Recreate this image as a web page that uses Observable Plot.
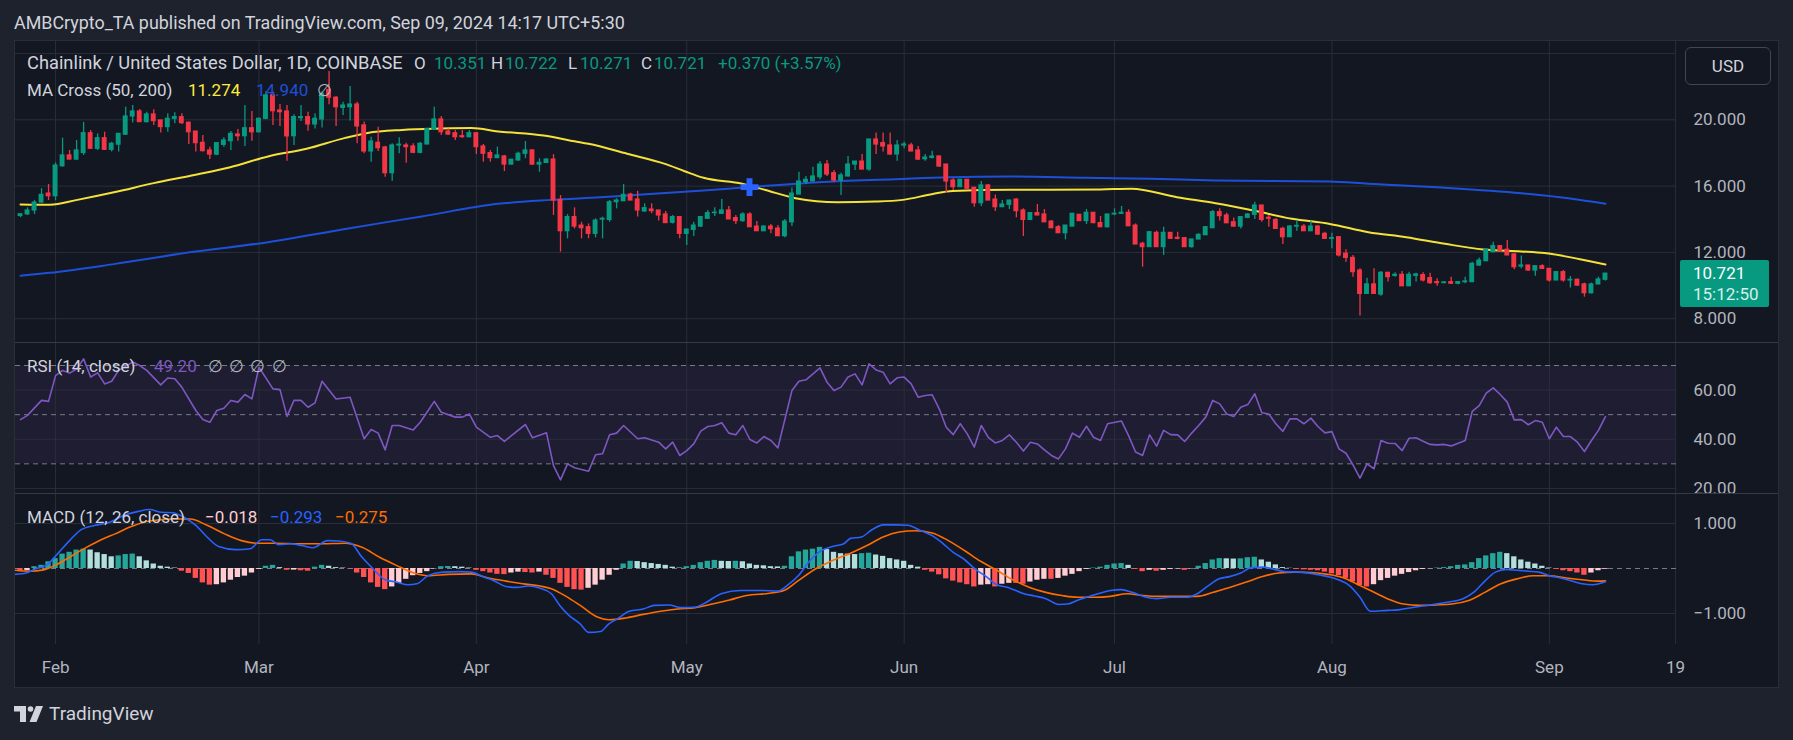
<!DOCTYPE html>
<html><head><meta charset="utf-8">
<script src="https://cdn.jsdelivr.net/npm/d3@7"></script>
<script src="https://cdn.jsdelivr.net/npm/@observablehq/plot@0.6"></script>
<style>
html,body{margin:0;padding:0;background:#1e222d;}
body{width:1793px;height:740px;position:relative;overflow:hidden;font-family:Roboto,"Noto Sans",sans-serif;color:#d1d4dc;}
.t{position:absolute;white-space:nowrap;line-height:20px;font-size:17px;}
.g{color:#089981}
#frame{position:absolute;left:14px;top:40px;width:1763px;height:646px;border:1px solid #2a2e39;background:#131722;}
.panel{position:absolute;left:0;}
.panel svg{max-width:none !important;}
.sep{position:absolute;left:0;width:1763px;height:1px;background:#363a45;}
</style></head><body>
<div class="t" style="left:14px;top:13px;font-size:17.9px;color:#d1d4dc">AMBCrypto_TA published on TradingView.com, Sep 09, 2024 14:17 UTC+5:30</div>
<div id="frame">
  <div class="panel" id="price" style="top:0"></div>
  <div class="panel" id="rsi" style="top:301px"></div>
  <div class="panel" id="macd" style="top:452px"></div>
  <div class="panel" id="xaxis" style="top:603px;width:1700px;height:43px;overflow:hidden"></div>
  <div class="sep" style="top:301px"></div>
  <div class="sep" style="top:452px"></div>
</div>
<!-- legends -->
<div class="t" style="left:27px;top:53px;font-size:18.3px">Chainlink / United States Dollar, 1D, COINBASE</div>
<div class="t" style="left:414px;top:53px">O</div><div class="t g" style="left:434px;top:53px">10.351</div>
<div class="t" style="left:491px;top:53px">H</div><div class="t g" style="left:505px;top:53px">10.722</div>
<div class="t" style="left:568px;top:53px">L</div><div class="t g" style="left:580px;top:53px">10.271</div>
<div class="t" style="left:641px;top:53px">C</div><div class="t g" style="left:654px;top:53px">10.721</div>
<div class="t g" style="left:718px;top:53px">+0.370 (+3.57%)</div>
<div class="t" style="left:27px;top:80px">MA Cross (50, 200)</div>
<div class="t" style="left:188px;top:80px;color:#ffeb3b">11.274</div>
<div class="t" style="left:256px;top:80px;color:#1e4fd8">14.940</div>
<div class="t" style="left:317px;top:80px;color:#b2b5be">∅</div>
<div class="t" style="left:27px;top:356px">RSI (14, close)</div>
<div class="t" style="left:154px;top:356px;color:#7e57c2">49.20</div>
<div class="t" style="left:208px;top:356px;color:#b2b5be;word-spacing:2px">∅ ∅ ∅ ∅</div>
<div class="t" style="left:27px;top:507px">MACD (12, 26, close)</div>
<div class="t" style="left:205px;top:507px;color:#ffcdd2">−0.018</div>
<div class="t" style="left:270px;top:507px;color:#2962ff">−0.293</div>
<div class="t" style="left:335px;top:507px;color:#ff6d00">−0.275</div>
<!-- USD button and price tag -->
<div style="position:absolute;left:1685px;top:47px;width:84px;height:36px;border:1px solid #434651;border-radius:6px;background:#131722;color:#d1d4dc;font-size:17px;line-height:36px;text-align:center">USD</div>
<div style="position:absolute;left:1680px;top:260px;width:89px;height:47px;background:#089981;border-radius:2px">
  <div class="t" style="left:13px;top:3px;color:#ffffff;font-size:17px">10.721</div>
  <div class="t" style="left:13px;top:24px;color:#d6efea;font-size:17px">15:12:50</div>
</div>
<!-- footer -->
<svg style="position:absolute;left:14px;top:706px" width="30" height="16" viewBox="0 0 30 16">
  <path d="M0 0H12V16H6V5.5H0Z" fill="#d1d4dc"/>
  <circle cx="16.5" cy="3" r="2.8" fill="#d1d4dc"/>
  <path d="M22 0H29L22.5 16H15.5Z" fill="#d1d4dc"/>
</svg>
<div class="t" style="left:49px;top:703px;font-size:19px;line-height:22px;color:#d1d4dc">TradingView</div>
<script>
// ---------- DATA ----------
// Daily candles, day 0 = 2024-01-27 ... day 226 = 2024-09-09
const startDate = "2024-01-27";
const open = [
 14.2,14.3,14.53,15.01,15.55,15.39,17.2,17.85,17.6,18.0,
 19.19,18.25,18.89,18.19,18.5,19.1,20.2,20.5,19.86,20.32,
 19.96,19.56,20.06,20.16,19.82,19.29,18.61,18.15,17.9,18.49,
 18.71,19.11,19.01,19.49,19.25,20.06,21.47,20.56,20.5,19.01,
 20.1,20.16,19.72,20.02,21.8,21.33,20.72,20.76,20.92,19.66,
 18.09,18.61,18.33,16.78,18.45,18.45,18.39,18.01,18.51,19.39,
 20.02,19.29,19.19,19.01,18.95,19.19,18.39,17.99,17.69,17.79,
 17.3,17.55,17.95,18.15,17.3,17.4,17.6,15.17,13.28,14.13,
 13.62,13.52,13.12,13.98,13.96,15.03,15.09,15.49,15.19,14.47,
 14.59,14.53,14.29,13.79,14.13,13.12,13.36,13.56,14.03,14.37,
 14.33,14.53,14.07,13.89,14.29,13.56,13.28,13.56,13.44,12.98,
 13.82,15.49,16.24,16.28,16.54,17.3,16.78,16.34,16.58,17.3,
 17.48,17.0,18.81,18.59,18.45,17.91,18.45,18.45,18.15,17.62,
 17.7,17.79,17.3,16.34,15.94,16.38,15.9,14.97,16.04,15.19,
 14.73,14.87,15.19,14.53,13.96,14.37,14.29,13.86,13.52,13.16,
 13.56,14.27,13.89,14.39,13.77,13.52,14.29,14.33,14.39,13.62,
 12.52,12.32,13.18,12.32,13.18,12.88,12.86,12.32,12.78,13.04,
 13.46,14.43,14.23,13.82,13.56,14.09,14.27,14.83,14.09,13.96,
 13.42,12.92,13.56,13.56,13.28,13.56,13.12,12.82,12.92,11.92,
 11.67,10.91,9.5,10.07,9.46,10.77,10.59,10.65,9.96,10.59,
 10.63,10.45,10.21,10.15,10.21,10.11,10.21,10.21,11.21,11.47,
 12.02,12.38,12.16,11.88,11.15,11.21,10.91,11.17,11.01,10.31,
 10.81,10.31,10.35,10.07,9.54,10.07,10.351];
const high = [
 14.35,14.69,15.13,15.84,16.1,17.4,18.89,18.15,18.75,19.84,
 19.35,19.15,19.25,18.65,19.15,20.76,20.86,20.62,20.46,20.6,
 19.96,20.36,20.42,20.36,19.86,19.29,19.05,18.35,18.59,18.91,
 19.29,19.41,20.86,20.5,20.1,21.67,21.67,20.92,20.86,20.3,
 20.86,20.46,20.36,21.67,22.91,21.4,21.06,22.01,21.06,19.86,
 18.95,19.55,18.4,18.55,18.91,18.59,18.55,18.63,19.45,20.76,
 20.2,19.45,19.35,19.35,19.35,19.19,18.51,18.15,18.35,17.85,
 17.6,18.05,18.69,18.2,17.65,17.65,17.9,15.43,14.29,14.69,
 13.82,13.72,14.03,14.13,15.13,15.23,16.1,15.57,15.69,14.93,
 14.93,14.53,14.47,14.23,14.13,13.4,13.82,14.13,14.53,14.69,
 15.19,14.77,14.23,14.39,14.39,13.86,13.6,13.68,13.62,13.99,
 15.89,16.84,16.58,17.14,17.48,17.54,16.94,16.78,17.79,17.48,
 17.91,18.81,19.21,19.21,19.21,18.75,18.65,18.59,18.39,17.91,
 18.11,17.79,17.3,16.44,16.38,16.38,15.9,16.28,16.1,15.47,
 15.13,15.13,15.23,14.63,14.37,14.89,14.59,13.92,13.62,13.62,
 14.33,14.27,14.59,14.39,14.17,14.29,14.63,14.77,14.57,13.72,
 12.62,13.22,13.28,13.52,13.18,13.22,12.9,12.78,13.12,13.56,
 14.53,14.63,14.37,14.07,14.13,14.33,15.03,14.83,14.23,14.03,
 13.52,13.62,13.92,13.68,13.88,13.62,13.22,13.16,12.96,12.16,
 11.82,11.01,10.45,11.01,10.85,10.81,10.77,10.85,10.81,10.75,
 10.77,10.75,10.41,10.25,10.51,10.25,10.51,11.41,11.66,12.18,
 12.62,12.42,12.72,11.92,11.78,11.21,11.17,11.25,11.01,10.81,
 10.91,10.55,10.39,10.15,10.15,10.51,10.722];
const low = [
 14.1,14.23,14.29,14.97,15.13,15.13,17.14,17.6,17.55,17.85,
 18.25,18.15,18.15,18.05,18.05,19.05,19.8,19.86,19.8,19.66,
 19.2,19.25,19.76,19.72,18.51,18.05,18.05,17.6,17.85,18.35,
 18.15,18.71,18.39,18.71,19.2,20.0,19.66,19.6,17.5,18.45,
 19.9,19.31,19.45,19.5,20.9,19.6,20.26,19.92,18.55,17.95,
 17.44,18.09,16.54,16.3,17.95,17.38,17.95,17.95,18.51,19.39,
 19.05,19.05,18.75,18.89,18.91,17.91,17.44,17.44,17.65,16.88,
 17.28,17.5,17.65,17.24,16.84,17.38,14.23,12.02,12.82,13.42,
 12.82,12.82,12.88,12.82,13.82,14.63,15.09,15.13,14.13,14.43,
 14.33,13.89,13.77,13.72,12.82,12.42,12.96,13.5,14.0,14.17,
 14.29,13.99,13.68,13.82,13.52,13.28,13.28,13.12,12.98,12.88,
 13.56,15.49,16.1,16.28,16.38,16.58,16.24,15.43,16.58,16.94,
 17.0,16.9,17.91,18.05,17.85,17.5,18.25,18.09,17.54,17.5,
 17.64,17.14,15.57,15.74,15.94,15.84,14.73,14.77,15.13,14.47,
 14.73,14.59,14.09,12.96,13.92,14.23,13.82,13.46,13.16,12.76,
 13.56,13.89,13.68,13.73,13.52,13.48,14.22,14.29,13.58,12.48,
 11.11,12.32,12.32,11.82,12.82,12.76,12.32,12.26,12.78,13.04,
 13.46,13.89,13.76,13.52,13.42,14.03,13.99,13.82,13.52,13.42,
 12.48,12.92,13.28,13.28,13.28,13.02,12.82,12.22,11.72,11.41,
 10.51,8.16,9.46,9.46,9.36,10.21,10.51,9.96,9.96,10.21,
 10.21,10.07,9.96,10.11,10.07,10.05,10.11,10.21,11.17,11.47,
 11.97,12.02,11.82,10.95,11.01,10.87,10.57,10.97,10.21,10.31,
 10.21,9.85,9.96,9.3,9.5,10.07,10.271];
const close = [
 14.3,14.53,15.01,15.47,15.39,17.24,17.85,17.6,18.15,19.19,
 18.25,18.89,18.19,18.55,19.15,20.2,20.5,19.86,20.32,19.92,
 19.56,20.06,20.16,19.8,19.25,18.59,18.11,17.9,18.59,18.75,
 19.15,19.01,19.49,19.25,20.06,21.47,20.52,20.46,19.0,20.16,
 20.16,19.72,20.06,21.57,21.33,20.76,20.86,20.92,19.6,18.09,
 18.69,18.29,16.78,18.45,18.5,18.35,18.01,18.55,19.45,20.02,
 19.25,19.11,18.95,18.95,19.19,18.35,17.95,17.69,17.85,17.3,
 17.59,17.95,18.15,17.3,17.4,17.6,15.13,13.28,14.13,13.56,
 13.46,13.12,13.92,14.03,15.03,15.13,15.47,15.13,14.53,14.67,
 14.49,14.23,13.77,14.13,13.12,13.38,13.62,14.13,14.37,14.4,
 14.53,13.99,13.89,14.29,13.52,13.28,13.56,13.4,12.98,13.86,
 15.55,16.28,16.38,16.58,17.3,16.7,16.34,16.64,17.3,17.48,
 17.0,18.81,18.51,18.39,17.91,18.45,18.51,18.09,17.6,17.72,
 17.78,17.18,16.28,15.94,16.38,15.84,14.97,16.04,15.13,14.73,
 14.89,15.13,14.49,13.96,14.37,14.23,13.82,13.46,13.16,13.62,
 14.33,13.89,14.39,13.77,13.52,14.29,14.33,14.39,13.58,12.48,
 12.32,13.22,12.32,13.18,12.82,12.82,12.32,12.78,13.06,13.52,
 14.43,14.19,13.76,13.56,14.13,14.29,14.83,13.96,14.03,13.42,
 12.92,13.56,13.6,13.28,13.56,13.08,12.82,12.86,11.82,11.67,
 10.81,9.5,10.07,9.5,10.77,10.51,10.65,9.96,10.65,10.67,
 10.31,10.15,10.15,10.19,10.11,10.21,10.25,11.31,11.51,12.18,
 12.38,12.08,11.82,11.11,11.21,10.91,11.17,11.01,10.31,10.81,
 10.31,10.35,10.0,9.54,10.07,10.37,10.721];

// Moving averages [day, value]
const ma50 = [[0,14.89],[4.2,14.87],[8.1,15.17],[13.5,15.64],[19,16.18],[24.4,16.64],[29.9,17.14],[35.3,17.79],[40.8,18.25],[46.3,18.91],[49.5,19.21],[54.4,19.39],[59.9,19.47],[64.3,19.5],[68.1,19.3],[74.6,19.05],[79,18.7],[81,18.55],[86.5,17.95],[91.9,17.34],[94.7,16.9],[97.4,16.5],[102.9,16.14],[106.1,15.78],[110.5,15.27],[116.5,15.03],[121.9,15.07],[125.8,15.17],[130.1,15.53],[132.9,15.7],[141,15.78],[146.5,15.78],[154,15.8],[158.4,15.84],[164.9,15.33],[170.4,14.97],[175.8,14.53],[181.3,14.03],[186.7,13.72],[192.2,13.22],[197.6,12.92],[203.1,12.52],[208.6,12.18],[214,12.06],[217.3,11.96],[222.2,11.61],[226,11.274]];
const ma200 = [[0,10.6],[4.2,10.77],[13.5,11.31],[24.4,12.02],[35.3,12.62],[46.3,13.42],[57.2,14.17],[68.1,14.93],[75.7,15.17],[82.7,15.33],[86.5,15.43],[97.4,15.74],[103.9,15.94],[113.8,16.24],[124.7,16.42],[132.3,16.54],[141,16.58],[151.9,16.5],[161.1,16.44],[170.4,16.34],[186.7,16.28],[192.2,16.14],[203.1,15.9],[214,15.57],[219.5,15.33],[226,14.94]];
const crossSignal = [[103.95, 15.94]];

// RSI (14) [day, value]
const rsi = [[0,48.0],[1,49.7],[3,55.8],[4,55.4],[5,65.9],[6,68.0],[7,66.9],[8,68.6],[9,72.7],[10,65.3],[11,67.0],[12,62.5],[13,63.6],[14,68.0],[16,71.4],[17,70.0],[18,68.0],[20,62.1],[21,64.9],[22,64.6],[23,61.2],[25,51.7],[26,48.0],[27,46.9],[28,51.7],[29,52.6],[30,55.8],[31,55.1],[32,58.2],[33,56.4],[34,69.3],[36,60.5],[37,60.2],[38,49.3],[39,55.8],[40,55.8],[41,53.0],[42,54.8],[43,63.6],[45,56.4],[47,57.1],[49,40.2],[50,44.0],[51,42.5],[52,35.7],[53,45.6],[54,45.6],[56,43.8],[57,46.9],[59,55.4],[60,51.0],[62,49.0],[63,49.0],[64,50.3],[65,44.9],[67,40.8],[68,41.5],[69,39.1],[70,41.5],[72,46.0],[73,40.6],[75,42.6],[76,29.3],[77,23.5],[78,30.0],[79,28.4],[81,27.0],[82,33.7],[83,34.1],[84,41.8],[85,42.5],[86,45.6],[88,40.2],[89,40.6],[91,38.8],[92,36.1],[93,38.8],[94,33.4],[95,35.4],[96,38.1],[97,43.3],[98,45.2],[99,45.6],[100,46.7],[101,42.5],[102,41.8],[103,45.6],[104,39.9],[105,38.5],[106,41.1],[107,39.5],[108,36.5],[110,59.8],[111,63.6],[112,64.2],[114,69.0],[115,63.2],[116,59.8],[117,61.2],[118,65.3],[119,66.6],[120,62.1],[121,70.7],[122,68.2],[123,67.3],[124,62.5],[125,65.0],[126,65.3],[127,62.5],[128,57.1],[129,57.8],[130,58.1],[131,52.4],[132,44.9],[133,41.9],[134,46.3],[135,42.2],[136,36.8],[137,45.6],[138,40.8],[139,38.5],[140,39.5],[141,41.8],[142,38.8],[143,35.2],[144,38.8],[145,38.1],[146,35.7],[147,33.4],[148,32.0],[149,36.1],[150,42.5],[151,40.8],[152,45.3],[153,40.8],[154,39.5],[155,46.3],[157,47.4],[158,41.5],[159,34.8],[160,33.4],[161,41.8],[162,37.2],[163,43.6],[164,41.9],[165,41.8],[166,39.1],[167,42.5],[168,45.6],[169,49.0],[170,55.8],[171,54.4],[172,50.3],[173,49.3],[174,53.0],[175,54.1],[176,58.5],[177,50.8],[178,50.3],[179,46.3],[180,43.2],[181,48.3],[182,48.3],[183,46.3],[184,48.6],[185,45.2],[186,42.6],[187,43.1],[188,36.1],[189,34.3],[190,29.6],[191,24.2],[192,30.0],[193,28.0],[194,39.5],[195,38.4],[196,38.3],[197,35.4],[198,40.4],[199,40.6],[200,39.2],[201,37.9],[202,37.7],[203,37.9],[204,37.3],[206,39.5],[207,51.3],[208,53.7],[209,58.75],[210,60.9],[211,58.2],[212,55.1],[213,47.9],[214,48.0],[215,45.9],[216,47.6],[217,46.9],[218,40.2],[219,44.9],[220,41.1],[221,41.1],[222,38.8],[223,35.0],[224,39.5],[225,43.6],[226,49.2]];

// MACD (12, 26) line and signal [day, value]
const macdLine = [[-0.8,-0.13],[0.8,-0.10],[2.1,-0.01],[3.7,0.07],[5.3,0.33],[7.0,0.62],[8.6,0.86],[10.65,0.96],[12.7,1.03],[14.7,1.18],[16.8,1.27],[18.4,1.31],[20.1,1.25],[21.7,1.24],[23.3,1.14],[25,0.96],[26.6,0.70],[28.25,0.49],[30.7,0.42],[32.75,0.44],[34.4,0.64],[35.6,0.64],[36.8,0.53],[38.5,0.55],[40.1,0.51],[41.7,0.46],[43.8,0.62],[45.4,0.61],[47.1,0.56],[48.7,0.25],[50.3,-0.01],[52,-0.25],[53.6,-0.30],[55.25,-0.36],[56.5,-0.34],[58.1,-0.16],[60.2,-0.08],[62.6,-0.07],[64.3,-0.08],[65.9,-0.18],[67.5,-0.27],[69.2,-0.40],[70.8,-0.42],[72.4,-0.39],[74.1,-0.44],[75.7,-0.56],[76.9,-0.82],[78.2,-1.04],[79.8,-1.23],[81,-1.42],[82.7,-1.40],[83.9,-1.23],[85.1,-1.12],[86.8,-0.95],[88.8,-0.90],[90.4,-0.82],[92.5,-0.81],[94.1,-0.87],[96.2,-0.86],[97.8,-0.75],[99.9,-0.56],[102.7,-0.49],[105.6,-0.49],[108,-0.50],[109.3,-0.38],[110.9,-0.16],[112.5,0.16],[114.2,0.40],[115.8,0.49],[117.4,0.55],[118.35,0.67],[119.9,0.70],[121.4,0.86],[123,0.97],[124.9,0.97],[126.5,0.96],[128.4,0.84],[130,0.73],[131.5,0.56],[133,0.36],[134.6,0.20],[136.1,-0.01],[137.7,-0.18],[139.2,-0.36],[140.8,-0.42],[143.1,-0.56],[144.6,-0.61],[146.2,-0.67],[148.1,-0.80],[149.3,-0.79],[150.8,-0.70],[152.4,-0.62],[153.9,-0.55],[155.4,-0.49],[157,-0.47],[158.5,-0.53],[160.5,-0.64],[162,-0.67],[164,-0.64],[166.3,-0.64],[167.8,-0.56],[169.4,-0.38],[170.9,-0.23],[172.4,-0.18],[174,-0.10],[175.5,0.02],[177.1,0.03],[178.6,-0.01],[180.2,-0.07],[182.5,-0.08],[184.8,-0.13],[186.4,-0.18],[187.9,-0.25],[189.5,-0.38],[191,-0.64],[192.5,-0.95],[194.9,-0.93],[196.4,-0.92],[198.7,-0.86],[201,-0.81],[203.4,-0.75],[205.7,-0.67],[207.2,-0.53],[208.8,-0.28],[210.3,-0.08],[211.9,-0.02],[213.4,-0.04],[215,-0.06],[216.5,-0.08],[218,-0.16],[219.6,-0.21],[221.1,-0.27],[222.7,-0.34],[224.2,-0.36],[226,-0.293]];
const signalLine = [[-0.8,-0.04],[1.24,-0.06],[3.3,-0.03],[5.3,0.10],[7.4,0.29],[9.4,0.47],[11.5,0.64],[13.5,0.77],[15.6,0.92],[17.6,1.03],[19.65,1.08],[21.7,1.10],[24.2,1.10],[26.6,0.96],[29.1,0.77],[31.5,0.62],[33.95,0.56],[36.4,0.56],[39.7,0.55],[43,0.55],[46.25,0.56],[48.7,0.47],[51.2,0.25],[53.6,0.07],[56.1,-0.10],[58.1,-0.16],[61,-0.13],[64.3,-0.12],[66.7,-0.21],[69.2,-0.28],[71.6,-0.34],[74.1,-0.39],[75.7,-0.45],[77.8,-0.62],[79.8,-0.82],[82.25,-1.08],[83.9,-1.14],[86.3,-1.10],[88.8,-1.02],[91.3,-0.95],[93.7,-0.90],[96.2,-0.87],[98.6,-0.79],[101.1,-0.70],[103.5,-0.60],[106.8,-0.55],[108.85,-0.49],[110.9,-0.27],[113.35,-0.01],[115.8,0.18],[118.35,0.34],[120.7,0.51],[123,0.70],[125.3,0.81],[127.6,0.84],[130,0.79],[132.3,0.62],[134.6,0.40],[136.9,0.16],[139.2,-0.04],[141.5,-0.25],[143.9,-0.42],[146.2,-0.53],[148.5,-0.60],[150.8,-0.64],[153.1,-0.64],[155.4,-0.62],[157.8,-0.56],[160.1,-0.60],[162.4,-0.62],[164.7,-0.62],[167.8,-0.62],[170.1,-0.53],[172.4,-0.42],[174.8,-0.30],[177.1,-0.18],[179.4,-0.10],[181.7,-0.08],[184,-0.09],[186.4,-0.13],[188.7,-0.21],[191,-0.38],[192.5,-0.49],[194.9,-0.67],[197.2,-0.79],[199.5,-0.82],[201.8,-0.81],[204.1,-0.79],[206.5,-0.71],[208.8,-0.53],[211.1,-0.34],[213.4,-0.23],[215.7,-0.16],[218,-0.16],[220.4,-0.21],[222.7,-0.25],[225,-0.28],[226,-0.275]];
// MACD histogram, one value per day (day 0..226)
const histogram = [
 -0.06,-0.05,0.04,0.07,0.15,0.22,0.32,0.36,0.41,0.43,
 0.41,0.35,0.31,0.26,0.28,0.31,0.32,0.26,0.17,0.10,
 0.05,0.03,0.01,-0.06,-0.11,-0.22,-0.32,-0.37,-0.36,-0.32,
 -0.26,-0.20,-0.17,-0.10,-0.02,0.05,0.07,0.02,-0.04,-0.035,
 -0.05,-0.06,0.03,0.07,0.05,0.02,0.01,-0.01,-0.10,-0.20,
 -0.32,-0.42,-0.47,-0.41,-0.33,-0.24,-0.16,-0.11,-0.07,-0.01,
 0.04,0.045,0.04,0.03,0.01,-0.04,-0.07,-0.10,-0.13,-0.135,
 -0.10,-0.08,-0.09,-0.10,-0.08,-0.15,-0.22,-0.33,-0.42,-0.47,
 -0.48,-0.44,-0.37,-0.26,-0.15,-0.04,0.10,0.16,0.155,0.13,
 0.11,0.09,0.07,0.03,0.01,0.04,0.07,0.13,0.16,0.18,
 0.16,0.155,0.16,0.15,0.10,0.07,0.06,0.04,0.035,0.05,
 0.26,0.37,0.41,0.43,0.47,0.42,0.36,0.33,0.32,0.31,
 0.33,0.34,0.30,0.27,0.22,0.19,0.16,0.07,0.03,-0.04,
 -0.08,-0.14,-0.23,-0.28,-0.32,-0.36,-0.41,-0.37,-0.36,-0.41,
 -0.35,-0.33,-0.33,-0.35,-0.30,-0.26,-0.24,-0.24,-0.22,-0.17,
 -0.13,-0.07,-0.02,0.01,0.03,0.07,0.10,0.11,0.07,-0.02,
 -0.07,-0.04,-0.06,-0.04,-0.02,-0.01,-0.04,-0.01,0.05,0.11,
 0.19,0.22,0.215,0.21,0.215,0.24,0.25,0.19,0.14,0.08,
 0.02,0.005,-0.02,-0.03,-0.04,-0.05,-0.08,-0.12,-0.16,-0.22,
 -0.30,-0.38,-0.41,-0.36,-0.27,-0.22,-0.17,-0.13,-0.09,-0.05,
 -0.02,-0.005,0.01,0.02,0.04,0.07,0.08,0.13,0.22,0.28,
 0.33,0.36,0.33,0.26,0.19,0.14,0.10,0.05,0.01,-0.02,
 -0.05,-0.07,-0.10,-0.15,-0.10,-0.05,-0.018];

// Axis ticks and labels
const priceTicks = [8, 12, 16, 20];
const priceGrid = [8, 12, 16, 20, 24];
const rsiTicks = [20, 40, 60];
const rsiLevels = [70, 50, 30];
const macdTicks = [-1, 1];
const xTickDates = ["2024-02-01","2024-03-01","2024-04-01","2024-05-01","2024-06-01","2024-07-01","2024-08-01","2024-09-01","2024-09-19"];
const xTickLabels = ["Feb","Mar","Apr","May","Jun","Jul","Aug","Sep","19"];

// ---------- CHART ----------
const DAY = 864e5;
const T0 = Date.parse(startDate + "T00:00:00Z");
const toDate = d => new Date(T0 + d * DAY);
const xDomain = [toDate(-0.713), toDate(236.13)];
const xTicks = xTickDates.map(s => new Date(s + "T00:00:00Z"));

const GREEN = "#089981", RED = "#f23645", GRID = "#2a2e39";
const candles = open.map((o, i) => ({
  date: toDate(i), o, h: high[i], l: low[i], c: close[i], up: close[i] >= o, i
}));
const hist = histogram.map((v, i) => {
  const prev = i > 0 ? histogram[i - 1] : v;
  let col;
  if (v >= 0) col = v >= prev ? "#26a69a" : "#b2dfdb";
  else col = v <= prev ? "#ff5252" : "#ffcdd2";
  return {i, v, col};
});

const baseStyle = {background: "transparent", color: "#b2b5be", fontSize: "17px", fontFamily: "Roboto, 'Noto Sans', sans-serif", overflow: "hidden", maxWidth: "none"};
const common = {
  width: 1763, marginLeft: 0, marginRight: 102, marginTop: 0, marginBottom: 0,
  style: baseStyle,
  x: {type: "utc", domain: xDomain, axis: null}
};
const vgrid = Plot.ruleX(xTicks, {stroke: GRID, strokeWidth: 1});

const price = Plot.plot({
  ...common, height: 301,
  y: {domain: [6.568, 24.722], axis: "right", ticks: priceTicks, tickSize: 0, tickPadding: 17, tickFormat: d => d.toFixed(3), label: null},
  marks: [
    Plot.ruleY(priceGrid, {stroke: GRID}),
    vgrid,
    Plot.line(ma200, {x: d => toDate(d[0]), y: d => d[1], stroke: "#1e4fd8", strokeWidth: 2, curve: "monotone-x"}),
    Plot.line(ma50, {x: d => toDate(d[0]), y: d => d[1], stroke: "#f4e23a", strokeWidth: 2, curve: "monotone-x"}),
    Plot.ruleX(candles, {x: "date", y1: "l", y2: "h", stroke: d => d.up ? GREEN : RED, strokeWidth: 1.3}),
    Plot.rect(candles, {
      x1: d => toDate(d.i - 0.35), x2: d => toDate(d.i + 0.35),
      y1: d => Math.min(d.o, d.c), y2: d => Math.max(d.o, d.c),
      fill: d => d.up ? GREEN : RED, insetTop: -0.6, insetBottom: -0.6
    }),
    Plot.dot(crossSignal, {x: d => toDate(d[0]), y: d => d[1], symbol: "cross", r: 7.5, fill: "#2962ff"})
  ]
});
document.getElementById("price").append(price);

const rsiPlot = Plot.plot({
  ...common, height: 151,
  style: {...baseStyle, overflow: "visible"},
  y: {domain: [17.93, 79.36], axis: "right", ticks: rsiTicks, tickSize: 0, tickPadding: 17, tickFormat: d => d.toFixed(2), label: null},
  marks: [
    Plot.rect([0], {x1: () => xDomain[0], x2: () => xDomain[1], y1: () => 30, y2: () => 70, fill: "#7e57c2", fillOpacity: 0.1}),
    Plot.ruleY(rsiTicks, {stroke: GRID}),
    vgrid,
    Plot.ruleY(rsiLevels, {stroke: "#787b86", strokeDasharray: "5,4", strokeWidth: 1}),
    Plot.line(rsi, {x: d => toDate(d[0]), y: d => d[1], stroke: "#7e57c2", strokeWidth: 1.6})
  ]
});
document.getElementById("rsi").append(rsiPlot);

const macdPlot = Plot.plot({
  ...common, height: 151,
  y: {domain: [-1.689, 1.667], axis: "right", ticks: macdTicks, tickSize: 0, tickPadding: 17, tickFormat: d => (d < 0 ? "−" : "") + Math.abs(d).toFixed(3), label: null},
  marks: [
    Plot.ruleY(macdTicks, {stroke: GRID}),
    vgrid,
    Plot.ruleY([0], {stroke: "#787b86", strokeDasharray: "5,4"}),
    Plot.rect(hist, {x1: d => toDate(d.i - 0.38), x2: d => toDate(d.i + 0.38), y1: () => 0, y2: d => d.v, fill: d => d.col}),
    Plot.line(signalLine, {x: d => toDate(d[0]), y: d => d[1], stroke: "#ff6d00", strokeWidth: 1.6, curve: "monotone-x"}),
    Plot.line(macdLine, {x: d => toDate(d[0]), y: d => d[1], stroke: "#2962ff", strokeWidth: 1.6, curve: "monotone-x"})
  ]
});
document.getElementById("macd").append(macdPlot);

const axisPlot = Plot.plot({
  ...common, height: 43,
  y: {axis: null},
  marks: [
    Plot.text(xTicks, {x: d => d, text: (d, i) => xTickLabels[i], frameAnchor: "middle", dy: 2, fill: "#b2b5be", fontSize: 17})
  ]
});
document.getElementById("xaxis").append(axisPlot);
</script>
</body></html>
